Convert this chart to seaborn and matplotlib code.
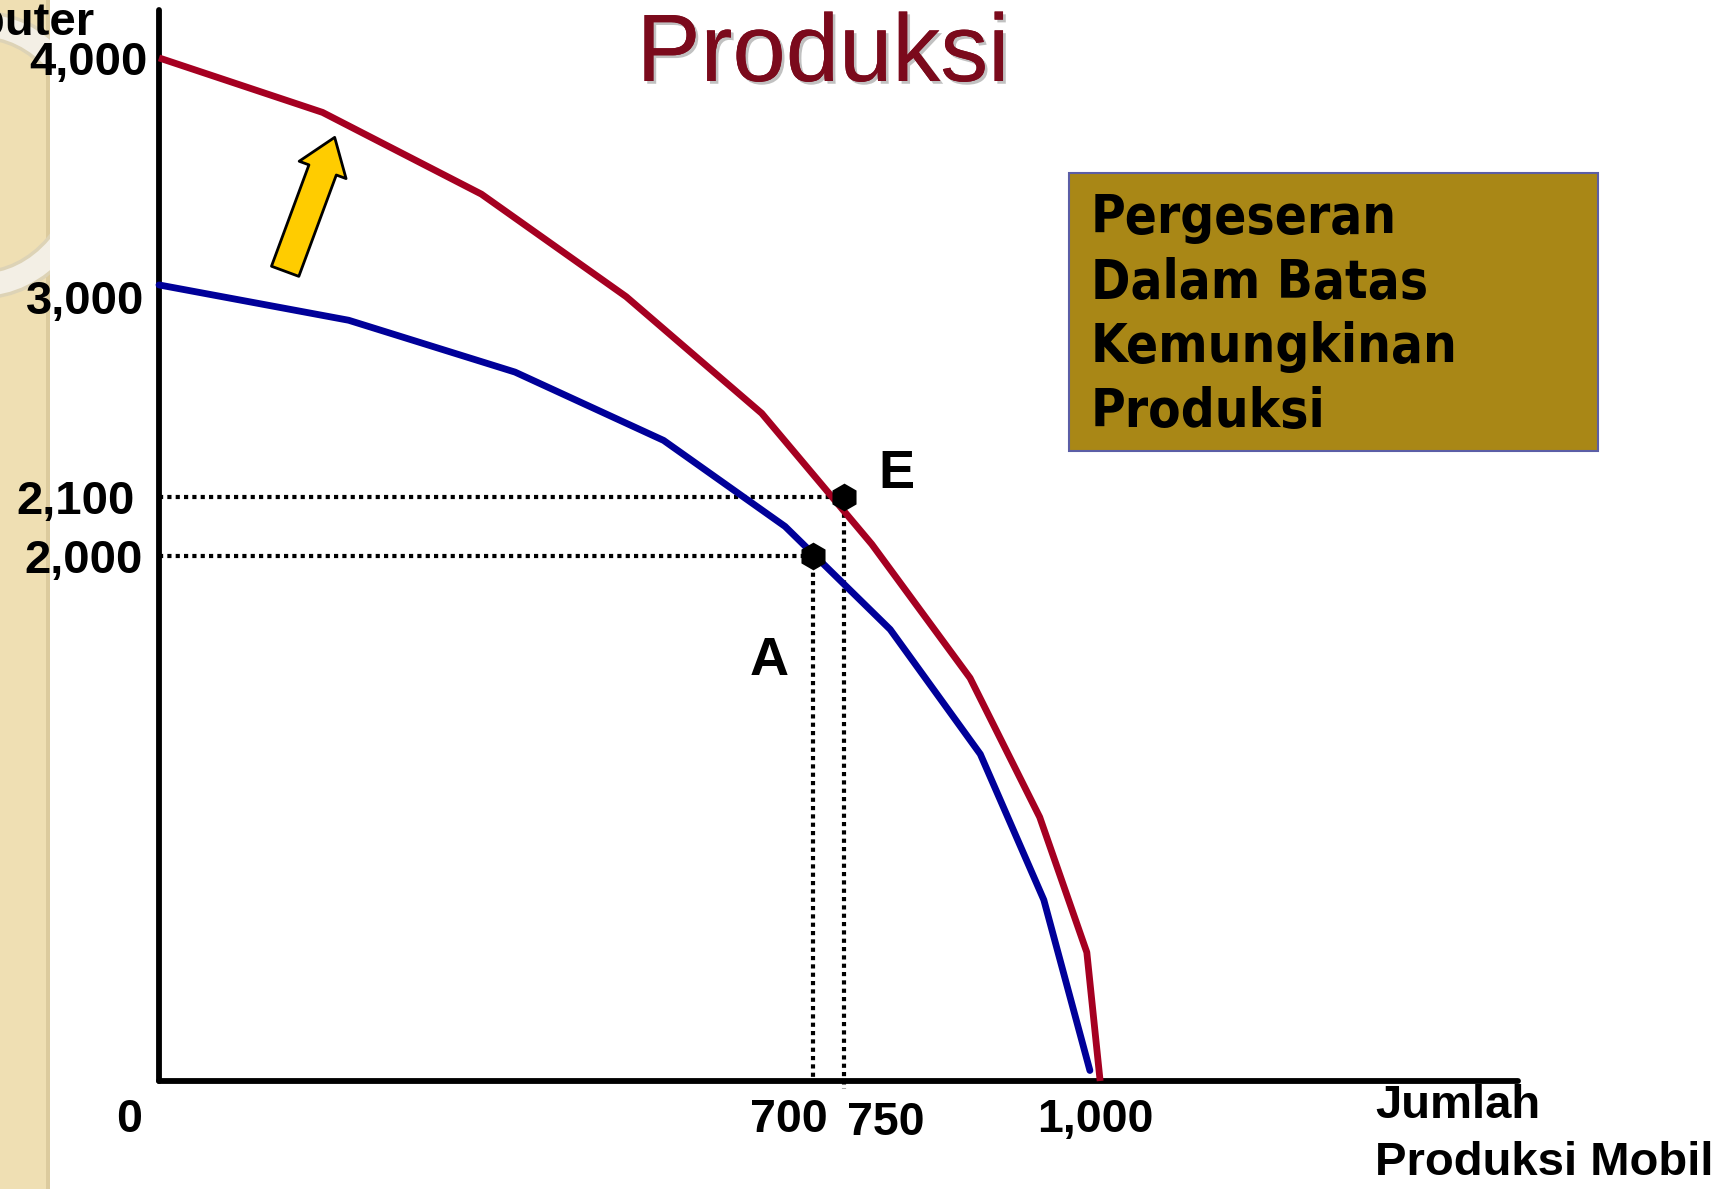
import numpy as np
import pandas as pd
import matplotlib
matplotlib.use("Agg")
import matplotlib.pyplot as plt
import matplotlib.transforms as mtransforms
from matplotlib.patches import Rectangle, Ellipse
from matplotlib import patheffects as pe
import seaborn as sns

# ---------------- data ----------------
red_mobil = [0, 175, 345, 500, 645, 777, 873, 941, 987, 1000]
red_komputer = [4000, 3760, 3400, 2950, 2455, 2020, 1535, 1005, 490, 0]
blue_mobil = [0, 203, 381, 540, 670, 795, 883, 945, 990]
blue_komputer = [3000, 2850, 2630, 2340, 2050, 1720, 1245, 690, 40]
point_names = ["A", "E"]
point_mobil = [700, 750]
point_komputer = [2000, 2100]
x_ticks = [0, 700, 750, 1000]
x_tick_labels = ["0", "700", "750", "1,000"]
y_ticks = [2000, 2100, 3000, 4000]
y_tick_labels = ["2,000", "2,100", "3,000", "4,000"]
title = "Produksi"
box_text = "Pergeseran\nDalam Batas\nKemungkinan\nProduksi"
x_label_lines = ["Jumlah", "Produksi Mobil"]
y_label = "Komputer"
arrow_from = (135, 3060)
arrow_to = (188, 3650)

# ---------------- schematic (piecewise) axis scales ----------------
X_ANCHOR_VAL = [-500, 0, 700, 750, 1000, 2000]
X_ANCHOR_POS = [-470, 0, 654, 685, 941, 1882]
Y_ANCHOR_VAL = [-1000, 0, 2000, 2100, 3000, 4000, 5000]
Y_ANCHOR_POS = [-262, 0, 525, 584, 796, 1023, 1250]


def fwd_x(v):
    return np.interp(v, X_ANCHOR_VAL, X_ANCHOR_POS)


def inv_x(v):
    return np.interp(v, X_ANCHOR_POS, X_ANCHOR_VAL)


def fwd_y(v):
    return np.interp(v, Y_ANCHOR_VAL, Y_ANCHOR_POS)


def inv_y(v):
    return np.interp(v, Y_ANCHOR_POS, Y_ANCHOR_VAL)


# ---------------- figure ----------------
sns.set_theme(style="white")
plt.rcParams["font.family"] = ["Liberation Sans", "DejaVu Sans"]

W, H = 1730, 1189
fig = plt.figure(figsize=(W / 100, H / 100), dpi=100)
fig.patch.set_facecolor("white")


def fx(px):
    return px / W


def fy(py):
    return 1 - py / H


# decorative left strip (drawn beneath everything)
strip = Rectangle((0, 0), fx(50), 1, transform=fig.transFigure,
                  facecolor="#EFDFB3", edgecolor="none", zorder=-5)
fig.add_artist(strip)
fig.add_artist(Rectangle((fx(46), 0), fx(4), 1, transform=fig.transFigure,
                         facecolor="#DCCB9E", edgecolor="none", zorder=-4.5))
ring_out = Ellipse((fx(-20), fy(155)), 220 / W, 260 / H, transform=fig.transFigure,
                   fill=False, edgecolor="#DDD3B6", linewidth=21, zorder=-4)
ring_in = Ellipse((fx(-20), fy(155)), 220 / W, 260 / H, transform=fig.transFigure,
                  fill=False, edgecolor="#F3EFE5", linewidth=16, zorder=-3.9)
for r in (ring_out, ring_in):
    fig.add_artist(r)
    r.set_clip_path(strip)

ax = fig.add_axes([fx(159), fy(1081), (1518 - 159) / W, (1081 - 10) / H])
ax.set_facecolor("none")

red_df = pd.DataFrame({"mobil": red_mobil, "komputer": red_komputer})
blue_df = pd.DataFrame({"mobil": blue_mobil, "komputer": blue_komputer})

sns.lineplot(data=red_df, x="mobil", y="komputer", color="#A50021", linewidth=4.9,
             sort=False, estimator=None, ax=ax, clip_on=False,
             solid_capstyle="butt", zorder=3)
sns.lineplot(data=blue_df, x="mobil", y="komputer", color="#000099", linewidth=4.9,
             sort=False, estimator=None, ax=ax, clip_on=False,
             solid_capstyle="round", zorder=3)

# dotted guide lines
dot = (0, (1, 1))
for i, (xm, yk) in enumerate(zip(point_mobil, point_komputer)):
    ax.plot([0, xm], [yk, yk], linestyle=dot, color="black", linewidth=3,
            dash_capstyle="butt", zorder=2, clip_on=False)
    ax.plot([xm, xm], [yk, -30 if i == 1 else 0], linestyle=dot, color="black",
            linewidth=3, dash_capstyle="butt", zorder=2, clip_on=False)

sns.scatterplot(x=point_mobil, y=point_komputer, marker="h", s=400, color="black",
                linewidth=0, zorder=5, ax=ax, clip_on=False)

label_offsets = {"A": (-31.7, -85.7), "E": (37.4, 6.5)}
for name, xm, yk in zip(point_names, point_mobil, point_komputer):
    ax.annotate(name, xy=(xm, yk), xytext=label_offsets[name], textcoords="offset points",
                ha="center", va="baseline", fontsize=39, fontweight="bold", color="black")

# yellow arrow
ax.annotate("", xy=arrow_to, xytext=arrow_from,
            arrowprops=dict(arrowstyle="simple,head_length=0.5,head_width=0.72,tail_width=0.42",
                            mutation_scale=50, facecolor="#FFCC00", edgecolor="black",
                            linewidth=2, shrinkA=0, shrinkB=0),
            zorder=4)

# scales / limits
ax.set_xscale("function", functions=(fwd_x, inv_x))
ax.set_yscale("function", functions=(fwd_y, inv_y))
ax.set_xlim(0, 1444)
ax.set_ylim(0, 4211)

ax.set_xticks(x_ticks, x_tick_labels)
ax.set_yticks(y_ticks, y_tick_labels)
ax.minorticks_off()
ax.tick_params(axis="x", length=0, labelsize=33.5, pad=12.5, labelcolor="black")
ax.tick_params(axis="y", length=0, labelsize=34, pad=13.7, labelcolor="black")
ax.set_xlabel("")
ax.set_ylabel("")
ax.grid(False)

for side in ("top", "right"):
    ax.spines[side].set_visible(False)
for side in ("left", "bottom"):
    ax.spines[side].set_color("black")
    ax.spines[side].set_linewidth(4.2)
    ax.spines[side].set_capstyle("round")


def shift(label, dx, dy):
    label.set_fontweight("bold")
    label.set_transform(label.get_transform() +
                        mtransforms.ScaledTranslation(dx / 100, -dy / 100, fig.dpi_scale_trans))


x_shifts = [(-30, 0), (-24, 0), (42, 3), (-5, 0)]
for lab, (dx, dy) in zip(ax.get_xticklabels(), x_shifts):
    shift(lab, dx, dy)
y_shifts = [(3, 0), (-5, 0), (4, 12), (8, 0)]
for lab, (dx, dy) in zip(ax.get_yticklabels(), y_shifts):
    shift(lab, dx, dy)

# title
fig.text(fx(823), fy(81), title, fontsize=69, color="#7B0A1C", ha="center", va="baseline",
         path_effects=[pe.withSimplePatchShadow(offset=(2, -2), shadow_rgbFace="#777777", alpha=0.45),
                       pe.Normal()])

# axis labels
fig.text(fx(95), fy(35), y_label, ha="right", va="baseline", fontsize=34, fontweight="bold",
         color="black")
fig.text(fx(1375), fy(1118), x_label_lines[0], ha="left", va="baseline", fontsize=34,
         fontweight="bold", color="black")
fig.text(fx(1375), fy(1175), x_label_lines[1], ha="left", va="baseline", fontsize=34,
         fontweight="bold", color="black")

# text box
fig.add_artist(Rectangle((fx(1069), fy(451)), (1598 - 1069) / W, (451 - 173) / H,
                         transform=fig.transFigure, facecolor="#A98716",
                         edgecolor="#5B5EA6", linewidth=1.5, zorder=1))
fig.text(fx(1091), fy(315), box_text, fontfamily="DejaVu Sans", fontweight="bold",
         fontstretch="condensed", fontsize=38, va="center", ha="left", linespacing=1.31,
         color="black", zorder=2)

fig.savefig("out.png", dpi=100)
